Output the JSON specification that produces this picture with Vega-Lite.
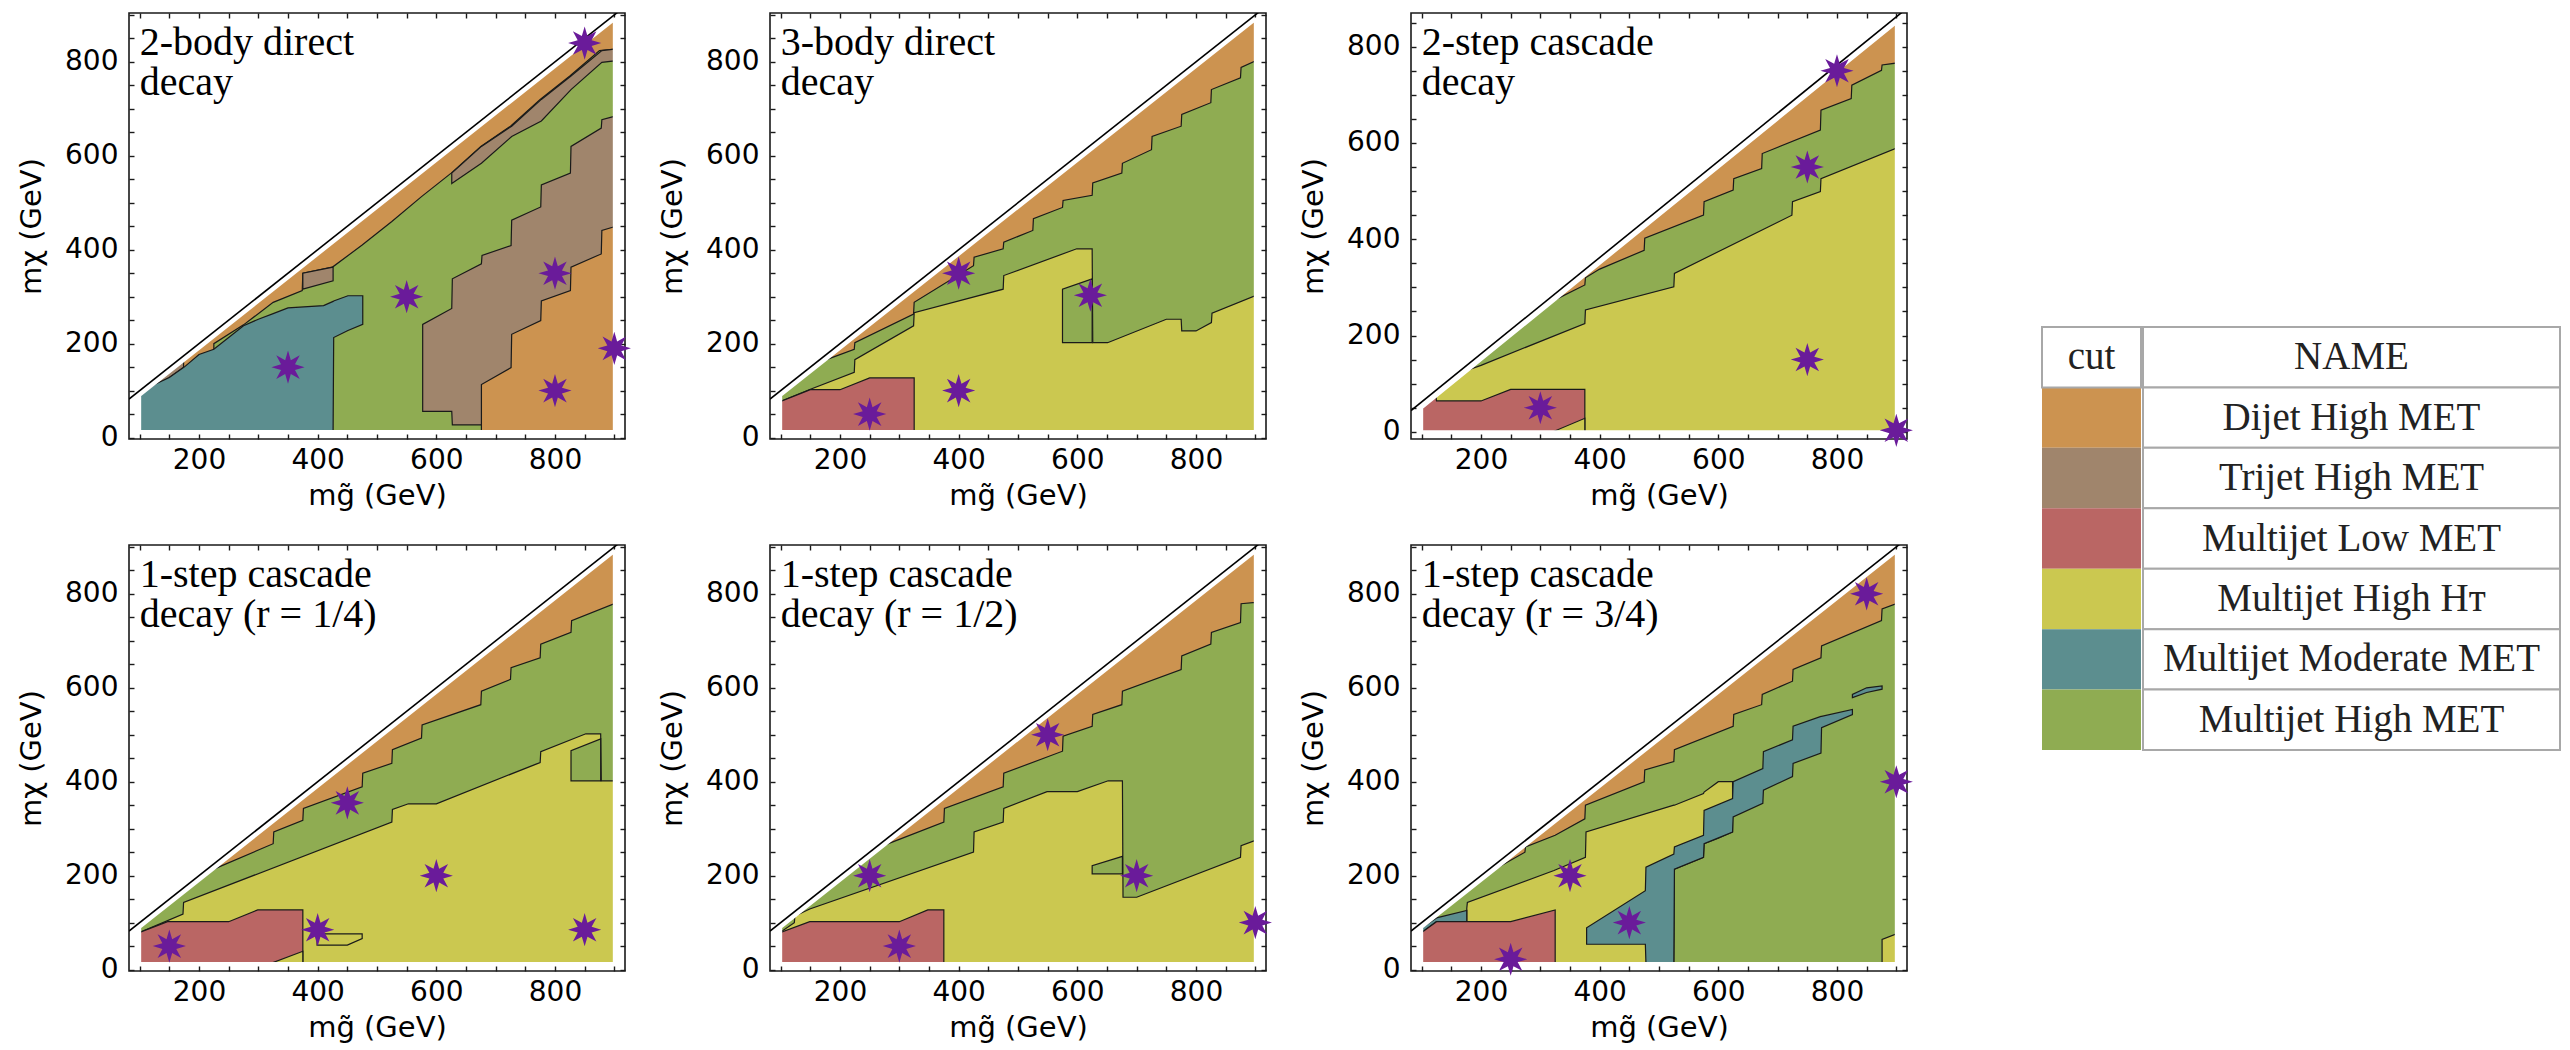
{
"$schema":"https://vega.github.io/schema/vega-lite/v6.json",
"padding":{"left":16,"top":0,"right":0,"bottom":0},
"background":"white",
"config":{
 "font":"DejaVu Sans",
 "view":{"stroke":"#1a1a1a","strokeWidth":1.6},
 "axis":{"grid":false,"domain":false,"tickSize":-5,"tickColor":"#1a1a1a","tickWidth":1.4,"labelFont":"DejaVu Sans","labelFontSize":28,"labelColor":"black","titleFont":"DejaVu Sans","titleFontSize":29,"titleFontWeight":"normal","titleColor":"black","labelFlush":false,"labelOverlap":false},
 "axisX":{"labelPadding":12,"titlePadding":7},
 "axisY":{"labelPadding":16,"titlePadding":18}
},
"datasets":{
"regions":[
{"panel":1,"part":"base","cut":"Dijet","x":100,"lo":13,"hi":90},
{"panel":1,"part":"base","cut":"Dijet","x":900,"lo":13,"hi":890},
{"panel":1,"part":"g1","cut":"HighMET","x":225,"lo":13,"hi":200},
{"panel":1,"part":"g1","cut":"HighMET","x":275,"lo":13,"hi":240},
{"panel":1,"part":"g1","cut":"HighMET","x":325,"lo":13,"hi":288},
{"panel":1,"part":"g1","cut":"HighMET","x":374,"lo":13,"hi":313},
{"panel":1,"part":"g1","cut":"HighMET","x":375,"lo":13,"hi":350},
{"panel":1,"part":"g1","cut":"HighMET","x":425,"lo":13,"hi":363},
{"panel":1,"part":"g1","cut":"HighMET","x":475,"lo":13,"hi":410},
{"panel":1,"part":"g1","cut":"HighMET","x":525,"lo":13,"hi":460},
{"panel":1,"part":"g1","cut":"HighMET","x":575,"lo":13,"hi":513},
{"panel":1,"part":"g1","cut":"HighMET","x":625,"lo":13,"hi":563},
{"panel":1,"part":"g1","cut":"HighMET","x":675,"lo":13,"hi":620},
{"panel":1,"part":"g1","cut":"HighMET","x":725,"lo":13,"hi":663},
{"panel":1,"part":"g1","cut":"HighMET","x":775,"lo":13,"hi":720},
{"panel":1,"part":"g1","cut":"HighMET","x":825,"lo":13,"hi":770},
{"panel":1,"part":"g1","cut":"HighMET","x":875,"lo":13,"hi":824},
{"panel":1,"part":"g1","cut":"HighMET","x":900,"lo":13,"hi":827},
{"panel":1,"part":"t1","cut":"Trijet","x":577,"lo":56,"hi":241},
{"panel":1,"part":"t1","cut":"Trijet","x":626,"lo":56,"hi":275},
{"panel":1,"part":"t1","cut":"Trijet","x":627,"lo":27,"hi":338},
{"panel":1,"part":"t1","cut":"Trijet","x":676,"lo":27,"hi":370},
{"panel":1,"part":"t1","cut":"Trijet","x":677,"lo":27,"hi":388},
{"panel":1,"part":"t1","cut":"Trijet","x":726,"lo":27,"hi":409},
{"panel":1,"part":"t1","cut":"Trijet","x":727,"lo":27,"hi":463},
{"panel":1,"part":"t1","cut":"Trijet","x":776,"lo":27,"hi":491},
{"panel":1,"part":"t1","cut":"Trijet","x":777,"lo":27,"hi":538},
{"panel":1,"part":"t1","cut":"Trijet","x":826,"lo":27,"hi":563},
{"panel":1,"part":"t1","cut":"Trijet","x":827,"lo":27,"hi":620},
{"panel":1,"part":"t1","cut":"Trijet","x":878,"lo":27,"hi":659},
{"panel":1,"part":"t1","cut":"Trijet","x":879,"lo":27,"hi":677},
{"panel":1,"part":"t1","cut":"Trijet","x":900,"lo":27,"hi":684},
{"panel":1,"part":"t2","cut":"Trijet","x":626,"lo":541,"hi":563},
{"panel":1,"part":"t2","cut":"Trijet","x":676,"lo":584,"hi":620},
{"panel":1,"part":"t2","cut":"Trijet","x":727,"lo":641,"hi":663},
{"panel":1,"part":"t2","cut":"Trijet","x":777,"lo":674,"hi":720},
{"panel":1,"part":"t2","cut":"Trijet","x":827,"lo":741,"hi":770},
{"panel":1,"part":"t2","cut":"Trijet","x":879,"lo":799,"hi":824},
{"panel":1,"part":"t2","cut":"Trijet","x":900,"lo":802,"hi":827},
{"panel":1,"part":"t3","cut":"Trijet","x":375,"lo":316,"hi":350},
{"panel":1,"part":"t3","cut":"Trijet","x":426,"lo":334,"hi":363},
{"panel":1,"part":"t4","cut":"Trijet","x":112,"lo":102,"hi":102},
{"panel":1,"part":"t4","cut":"Trijet","x":150,"lo":128,"hi":140},
{"panel":1,"part":"t4","cut":"Trijet","x":174,"lo":150,"hi":164},
{"panel":1,"part":"d2","cut":"Dijet","x":676,"lo":13,"hi":113},
{"panel":1,"part":"d2","cut":"Dijet","x":726,"lo":13,"hi":149},
{"panel":1,"part":"d2","cut":"Dijet","x":727,"lo":13,"hi":220},
{"panel":1,"part":"d2","cut":"Dijet","x":776,"lo":13,"hi":249},
{"panel":1,"part":"d2","cut":"Dijet","x":777,"lo":13,"hi":291},
{"panel":1,"part":"d2","cut":"Dijet","x":826,"lo":13,"hi":313},
{"panel":1,"part":"d2","cut":"Dijet","x":827,"lo":13,"hi":363},
{"panel":1,"part":"d2","cut":"Dijet","x":878,"lo":13,"hi":391},
{"panel":1,"part":"d2","cut":"Dijet","x":879,"lo":13,"hi":441},
{"panel":1,"part":"d2","cut":"Dijet","x":900,"lo":13,"hi":449},
{"panel":1,"part":"m1","cut":"ModMET","x":100,"lo":13,"hi":90},
{"panel":1,"part":"m1","cut":"ModMET","x":125,"lo":13,"hi":113},
{"panel":1,"part":"m1","cut":"ModMET","x":150,"lo":13,"hi":128},
{"panel":1,"part":"m1","cut":"ModMET","x":175,"lo":13,"hi":150},
{"panel":1,"part":"m1","cut":"ModMET","x":200,"lo":13,"hi":177},
{"panel":1,"part":"m1","cut":"ModMET","x":225,"lo":13,"hi":188},
{"panel":1,"part":"m1","cut":"ModMET","x":250,"lo":13,"hi":213},
{"panel":1,"part":"m1","cut":"ModMET","x":275,"lo":13,"hi":238},
{"panel":1,"part":"m1","cut":"ModMET","x":300,"lo":13,"hi":252},
{"panel":1,"part":"m1","cut":"ModMET","x":325,"lo":13,"hi":264},
{"panel":1,"part":"m1","cut":"ModMET","x":350,"lo":13,"hi":276},
{"panel":1,"part":"m1","cut":"ModMET","x":410,"lo":13,"hi":281},
{"panel":1,"part":"m1","cut":"ModMET","x":426,"lo":13,"hi":290},
{"panel":1,"part":"m1","cut":"ModMET","x":427,"lo":213,"hi":291},
{"panel":1,"part":"m1","cut":"ModMET","x":451,"lo":228,"hi":302},
{"panel":1,"part":"m1","cut":"ModMET","x":476,"lo":241,"hi":302},

{"panel":2,"part":"base","cut":"Dijet","x":100,"lo":13,"hi":90},
{"panel":2,"part":"base","cut":"Dijet","x":900,"lo":13,"hi":890},
{"panel":2,"part":"g1","cut":"HighMET","x":100,"lo":13,"hi":90},
{"panel":2,"part":"g1","cut":"HighMET","x":175,"lo":13,"hi":165},
{"panel":2,"part":"g1","cut":"HighMET","x":224,"lo":13,"hi":188},
{"panel":2,"part":"g1","cut":"HighMET","x":225,"lo":13,"hi":202},
{"panel":2,"part":"g1","cut":"HighMET","x":324,"lo":13,"hi":263},
{"panel":2,"part":"g1","cut":"HighMET","x":325,"lo":13,"hi":288},
{"panel":2,"part":"g1","cut":"HighMET","x":425,"lo":13,"hi":366},
{"panel":2,"part":"g1","cut":"HighMET","x":426,"lo":13,"hi":384},
{"panel":2,"part":"g1","cut":"HighMET","x":475,"lo":13,"hi":402},
{"panel":2,"part":"g1","cut":"HighMET","x":476,"lo":13,"hi":416},
{"panel":2,"part":"g1","cut":"HighMET","x":525,"lo":13,"hi":441},
{"panel":2,"part":"g1","cut":"HighMET","x":526,"lo":13,"hi":466},
{"panel":2,"part":"g1","cut":"HighMET","x":575,"lo":13,"hi":490},
{"panel":2,"part":"g1","cut":"HighMET","x":576,"lo":13,"hi":505},
{"panel":2,"part":"g1","cut":"HighMET","x":625,"lo":13,"hi":516},
{"panel":2,"part":"g1","cut":"HighMET","x":626,"lo":13,"hi":542},
{"panel":2,"part":"g1","cut":"HighMET","x":675,"lo":13,"hi":563},
{"panel":2,"part":"g1","cut":"HighMET","x":676,"lo":13,"hi":584},
{"panel":2,"part":"g1","cut":"HighMET","x":725,"lo":13,"hi":613},
{"panel":2,"part":"g1","cut":"HighMET","x":726,"lo":13,"hi":641},
{"panel":2,"part":"g1","cut":"HighMET","x":775,"lo":13,"hi":663},
{"panel":2,"part":"g1","cut":"HighMET","x":776,"lo":13,"hi":688},
{"panel":2,"part":"g1","cut":"HighMET","x":825,"lo":13,"hi":713},
{"panel":2,"part":"g1","cut":"HighMET","x":826,"lo":13,"hi":741},
{"panel":2,"part":"g1","cut":"HighMET","x":875,"lo":13,"hi":766},
{"panel":2,"part":"g1","cut":"HighMET","x":876,"lo":13,"hi":788},
{"panel":2,"part":"g1","cut":"HighMET","x":900,"lo":13,"hi":802},
{"panel":2,"part":"y1","cut":"HighHT","x":100,"lo":13,"hi":77},
{"panel":2,"part":"y1","cut":"HighHT","x":148,"lo":13,"hi":102},
{"panel":2,"part":"y1","cut":"HighHT","x":224,"lo":13,"hi":139},
{"panel":2,"part":"y1","cut":"HighHT","x":225,"lo":13,"hi":166},
{"panel":2,"part":"y1","cut":"HighHT","x":324,"lo":13,"hi":238},
{"panel":2,"part":"y1","cut":"HighHT","x":325,"lo":13,"hi":266},
{"panel":2,"part":"y1","cut":"HighHT","x":475,"lo":13,"hi":316},
{"panel":2,"part":"y1","cut":"HighHT","x":476,"lo":13,"hi":345},
{"panel":2,"part":"y1","cut":"HighHT","x":599,"lo":13,"hi":402},
{"panel":2,"part":"y1","cut":"HighHT","x":625,"lo":13,"hi":402},
{"panel":2,"part":"y1","cut":"HighHT","x":626,"lo":13,"hi":202},
{"panel":2,"part":"y1","cut":"HighHT","x":651,"lo":13,"hi":202},
{"panel":2,"part":"y1","cut":"HighHT","x":750,"lo":13,"hi":252},
{"panel":2,"part":"y1","cut":"HighHT","x":775,"lo":13,"hi":252},
{"panel":2,"part":"y1","cut":"HighHT","x":776,"lo":13,"hi":227},
{"panel":2,"part":"y1","cut":"HighHT","x":800,"lo":13,"hi":227},
{"panel":2,"part":"y1","cut":"HighHT","x":826,"lo":13,"hi":245},
{"panel":2,"part":"y1","cut":"HighHT","x":827,"lo":13,"hi":265},
{"panel":2,"part":"y1","cut":"HighHT","x":900,"lo":13,"hi":302},
{"panel":2,"part":"g2","cut":"HighMET","x":575,"lo":202,"hi":316},
{"panel":2,"part":"g2","cut":"HighMET","x":625,"lo":202,"hi":338},
{"panel":2,"part":"r1","cut":"LowMET","x":100,"lo":13,"hi":77},
{"panel":2,"part":"r1","cut":"LowMET","x":150,"lo":13,"hi":102},
{"panel":2,"part":"r1","cut":"LowMET","x":200,"lo":13,"hi":102},
{"panel":2,"part":"r1","cut":"LowMET","x":250,"lo":13,"hi":127},
{"panel":2,"part":"r1","cut":"LowMET","x":325,"lo":13,"hi":127},

{"panel":3,"part":"base","cut":"Dijet","x":100,"lo":0,"hi":50},
{"panel":3,"part":"base","cut":"Dijet","x":900,"lo":0,"hi":850},
{"panel":3,"part":"g1","cut":"HighMET","x":100,"lo":0,"hi":50},
{"panel":3,"part":"g1","cut":"HighMET","x":323,"lo":0,"hi":273},
{"panel":3,"part":"g1","cut":"HighMET","x":375,"lo":0,"hi":305},
{"panel":3,"part":"g1","cut":"HighMET","x":376,"lo":0,"hi":320},
{"panel":3,"part":"g1","cut":"HighMET","x":400,"lo":0,"hi":338},
{"panel":3,"part":"g1","cut":"HighMET","x":475,"lo":0,"hi":377},
{"panel":3,"part":"g1","cut":"HighMET","x":476,"lo":0,"hi":402},
{"panel":3,"part":"g1","cut":"HighMET","x":575,"lo":0,"hi":450},
{"panel":3,"part":"g1","cut":"HighMET","x":576,"lo":0,"hi":478},
{"panel":3,"part":"g1","cut":"HighMET","x":625,"lo":0,"hi":502},
{"panel":3,"part":"g1","cut":"HighMET","x":626,"lo":0,"hi":526},
{"panel":3,"part":"g1","cut":"HighMET","x":673,"lo":0,"hi":547},
{"panel":3,"part":"g1","cut":"HighMET","x":674,"lo":0,"hi":578},
{"panel":3,"part":"g1","cut":"HighMET","x":772,"lo":0,"hi":627},
{"panel":3,"part":"g1","cut":"HighMET","x":773,"lo":0,"hi":668},
{"panel":3,"part":"g1","cut":"HighMET","x":824,"lo":0,"hi":692},
{"panel":3,"part":"g1","cut":"HighMET","x":825,"lo":0,"hi":720},
{"panel":3,"part":"g1","cut":"HighMET","x":875,"lo":0,"hi":751},
{"panel":3,"part":"g1","cut":"HighMET","x":876,"lo":0,"hi":762},
{"panel":3,"part":"g1","cut":"HighMET","x":900,"lo":0,"hi":766},
{"panel":3,"part":"y1","cut":"HighHT","x":100,"lo":0,"hi":50},
{"panel":3,"part":"y1","cut":"HighHT","x":176,"lo":0,"hi":126},
{"panel":3,"part":"y1","cut":"HighHT","x":177,"lo":0,"hi":128},
{"panel":3,"part":"y1","cut":"HighHT","x":200,"lo":0,"hi":138},
{"panel":3,"part":"y1","cut":"HighHT","x":375,"lo":0,"hi":225},
{"panel":3,"part":"y1","cut":"HighHT","x":376,"lo":0,"hi":253},
{"panel":3,"part":"y1","cut":"HighHT","x":525,"lo":0,"hi":301},
{"panel":3,"part":"y1","cut":"HighHT","x":526,"lo":0,"hi":329},
{"panel":3,"part":"y1","cut":"HighHT","x":724,"lo":0,"hi":450},
{"panel":3,"part":"y1","cut":"HighHT","x":725,"lo":0,"hi":478},
{"panel":3,"part":"y1","cut":"HighHT","x":772,"lo":0,"hi":499},
{"panel":3,"part":"y1","cut":"HighHT","x":773,"lo":0,"hi":526},
{"panel":3,"part":"y1","cut":"HighHT","x":900,"lo":0,"hi":589},
{"panel":3,"part":"r1","cut":"LowMET","x":100,"lo":0,"hi":50},
{"panel":3,"part":"r1","cut":"LowMET","x":124,"lo":0,"hi":74},
{"panel":3,"part":"r1","cut":"LowMET","x":125,"lo":0,"hi":64},
{"panel":3,"part":"r1","cut":"LowMET","x":200,"lo":0,"hi":64},
{"panel":3,"part":"r1","cut":"LowMET","x":250,"lo":0,"hi":88},
{"panel":3,"part":"r1","cut":"LowMET","x":375,"lo":0,"hi":88},
{"panel":3,"part":"y2","cut":"HighHT","x":323,"lo":0,"hi":1},
{"panel":3,"part":"y2","cut":"HighHT","x":375,"lo":0,"hi":28},

{"panel":4,"part":"base","cut":"Dijet","x":100,"lo":13,"hi":90},
{"panel":4,"part":"base","cut":"Dijet","x":900,"lo":13,"hi":890},
{"panel":4,"part":"g1","cut":"HighMET","x":100,"lo":13,"hi":90},
{"panel":4,"part":"g1","cut":"HighMET","x":225,"lo":13,"hi":214},
{"panel":4,"part":"g1","cut":"HighMET","x":325,"lo":13,"hi":268},
{"panel":4,"part":"g1","cut":"HighMET","x":326,"lo":13,"hi":293},
{"panel":4,"part":"g1","cut":"HighMET","x":375,"lo":13,"hi":318},
{"panel":4,"part":"g1","cut":"HighMET","x":376,"lo":13,"hi":343},
{"panel":4,"part":"g1","cut":"HighMET","x":475,"lo":13,"hi":389},
{"panel":4,"part":"g1","cut":"HighMET","x":476,"lo":13,"hi":418},
{"panel":4,"part":"g1","cut":"HighMET","x":525,"lo":13,"hi":439},
{"panel":4,"part":"g1","cut":"HighMET","x":526,"lo":13,"hi":468},
{"panel":4,"part":"g1","cut":"HighMET","x":575,"lo":13,"hi":493},
{"panel":4,"part":"g1","cut":"HighMET","x":576,"lo":13,"hi":521},
{"panel":4,"part":"g1","cut":"HighMET","x":675,"lo":13,"hi":564},
{"panel":4,"part":"g1","cut":"HighMET","x":676,"lo":13,"hi":593},
{"panel":4,"part":"g1","cut":"HighMET","x":725,"lo":13,"hi":618},
{"panel":4,"part":"g1","cut":"HighMET","x":726,"lo":13,"hi":643},
{"panel":4,"part":"g1","cut":"HighMET","x":775,"lo":13,"hi":664},
{"panel":4,"part":"g1","cut":"HighMET","x":776,"lo":13,"hi":693},
{"panel":4,"part":"g1","cut":"HighMET","x":827,"lo":13,"hi":718},
{"panel":4,"part":"g1","cut":"HighMET","x":828,"lo":13,"hi":743},
{"panel":4,"part":"g1","cut":"HighMET","x":900,"lo":13,"hi":779},
{"panel":4,"part":"y1","cut":"HighHT","x":100,"lo":13,"hi":79},
{"panel":4,"part":"y1","cut":"HighHT","x":173,"lo":13,"hi":118},
{"panel":4,"part":"y1","cut":"HighHT","x":174,"lo":13,"hi":143},
{"panel":4,"part":"y1","cut":"HighHT","x":525,"lo":13,"hi":314},
{"panel":4,"part":"y1","cut":"HighHT","x":526,"lo":13,"hi":341},
{"panel":4,"part":"y1","cut":"HighHT","x":553,"lo":13,"hi":353},
{"panel":4,"part":"y1","cut":"HighHT","x":600,"lo":13,"hi":353},
{"panel":4,"part":"y1","cut":"HighHT","x":775,"lo":13,"hi":441},
{"panel":4,"part":"y1","cut":"HighHT","x":776,"lo":13,"hi":464},
{"panel":4,"part":"y1","cut":"HighHT","x":852,"lo":13,"hi":502},
{"panel":4,"part":"y1","cut":"HighHT","x":877,"lo":13,"hi":502},
{"panel":4,"part":"y1","cut":"HighHT","x":878,"lo":13,"hi":402},
{"panel":4,"part":"y1","cut":"HighHT","x":900,"lo":13,"hi":402},
{"panel":4,"part":"g2","cut":"HighMET","x":827,"lo":402,"hi":466},
{"panel":4,"part":"g2","cut":"HighMET","x":877,"lo":402,"hi":491},
{"panel":4,"part":"r1","cut":"LowMET","x":100,"lo":13,"hi":79},
{"panel":4,"part":"r1","cut":"LowMET","x":147,"lo":13,"hi":102},
{"panel":4,"part":"r1","cut":"LowMET","x":250,"lo":13,"hi":102},
{"panel":4,"part":"r1","cut":"LowMET","x":299,"lo":13,"hi":127},
{"panel":4,"part":"r1","cut":"LowMET","x":375,"lo":13,"hi":127},
{"panel":4,"part":"y2","cut":"HighHT","x":323,"lo":13,"hi":14},
{"panel":4,"part":"y2","cut":"HighHT","x":375,"lo":13,"hi":39},
{"panel":4,"part":"y3","cut":"HighHT","x":399,"lo":52,"hi":76},
{"panel":4,"part":"y3","cut":"HighHT","x":450,"lo":52,"hi":76},
{"panel":4,"part":"y3","cut":"HighHT","x":475,"lo":66,"hi":76},

{"panel":5,"part":"base","cut":"Dijet","x":100,"lo":13,"hi":90},
{"panel":5,"part":"base","cut":"Dijet","x":900,"lo":13,"hi":890},
{"panel":5,"part":"g1","cut":"HighMET","x":100,"lo":13,"hi":90},
{"panel":5,"part":"g1","cut":"HighMET","x":275,"lo":13,"hi":265},
{"panel":5,"part":"g1","cut":"HighMET","x":375,"lo":13,"hi":314},
{"panel":5,"part":"g1","cut":"HighMET","x":376,"lo":13,"hi":343},
{"panel":5,"part":"g1","cut":"HighMET","x":475,"lo":13,"hi":389},
{"panel":5,"part":"g1","cut":"HighMET","x":476,"lo":13,"hi":418},
{"panel":5,"part":"g1","cut":"HighMET","x":575,"lo":13,"hi":465},
{"panel":5,"part":"g1","cut":"HighMET","x":576,"lo":13,"hi":497},
{"panel":5,"part":"g1","cut":"HighMET","x":625,"lo":13,"hi":518},
{"panel":5,"part":"g1","cut":"HighMET","x":626,"lo":13,"hi":543},
{"panel":5,"part":"g1","cut":"HighMET","x":675,"lo":13,"hi":564},
{"panel":5,"part":"g1","cut":"HighMET","x":676,"lo":13,"hi":593},
{"panel":5,"part":"g1","cut":"HighMET","x":775,"lo":13,"hi":639},
{"panel":5,"part":"g1","cut":"HighMET","x":776,"lo":13,"hi":668},
{"panel":5,"part":"g1","cut":"HighMET","x":825,"lo":13,"hi":693},
{"panel":5,"part":"g1","cut":"HighMET","x":826,"lo":13,"hi":718},
{"panel":5,"part":"g1","cut":"HighMET","x":875,"lo":13,"hi":739},
{"panel":5,"part":"g1","cut":"HighMET","x":876,"lo":13,"hi":779},
{"panel":5,"part":"g1","cut":"HighMET","x":900,"lo":13,"hi":782},
{"panel":5,"part":"y1","cut":"HighHT","x":100,"lo":13,"hi":80},
{"panel":5,"part":"y1","cut":"HighHT","x":123,"lo":13,"hi":100},
{"panel":5,"part":"y1","cut":"HighHT","x":124,"lo":13,"hi":114},
{"panel":5,"part":"y1","cut":"HighHT","x":149,"lo":13,"hi":129},
{"panel":5,"part":"y1","cut":"HighHT","x":425,"lo":13,"hi":250},
{"panel":5,"part":"y1","cut":"HighHT","x":426,"lo":13,"hi":293},
{"panel":5,"part":"y1","cut":"HighHT","x":475,"lo":13,"hi":314},
{"panel":5,"part":"y1","cut":"HighHT","x":476,"lo":13,"hi":343},
{"panel":5,"part":"y1","cut":"HighHT","x":549,"lo":13,"hi":379},
{"panel":5,"part":"y1","cut":"HighHT","x":600,"lo":13,"hi":379},
{"panel":5,"part":"y1","cut":"HighHT","x":652,"lo":13,"hi":402},
{"panel":5,"part":"y1","cut":"HighHT","x":676,"lo":13,"hi":402},
{"panel":5,"part":"y1","cut":"HighHT","x":677,"lo":13,"hi":154},
{"panel":5,"part":"y1","cut":"HighHT","x":700,"lo":13,"hi":154},
{"panel":5,"part":"y1","cut":"HighHT","x":875,"lo":13,"hi":239},
{"panel":5,"part":"y1","cut":"HighHT","x":876,"lo":13,"hi":264},
{"panel":5,"part":"y1","cut":"HighHT","x":900,"lo":13,"hi":275},
{"panel":5,"part":"g2","cut":"HighMET","x":625,"lo":204,"hi":221},
{"panel":5,"part":"g2","cut":"HighMET","x":676,"lo":204,"hi":241},
{"panel":5,"part":"r1","cut":"LowMET","x":100,"lo":13,"hi":79},
{"panel":5,"part":"r1","cut":"LowMET","x":149,"lo":13,"hi":102},
{"panel":5,"part":"r1","cut":"LowMET","x":300,"lo":13,"hi":102},
{"panel":5,"part":"r1","cut":"LowMET","x":348,"lo":13,"hi":127},
{"panel":5,"part":"r1","cut":"LowMET","x":375,"lo":13,"hi":127},

{"panel":6,"part":"base","cut":"Dijet","x":100,"lo":13,"hi":90},
{"panel":6,"part":"base","cut":"Dijet","x":900,"lo":13,"hi":890},
{"panel":6,"part":"g1","cut":"HighMET","x":100,"lo":13,"hi":90},
{"panel":6,"part":"g1","cut":"HighMET","x":224,"lo":13,"hi":214},
{"panel":6,"part":"g1","cut":"HighMET","x":274,"lo":13,"hi":250},
{"panel":6,"part":"g1","cut":"HighMET","x":275,"lo":13,"hi":261},
{"panel":6,"part":"g1","cut":"HighMET","x":325,"lo":13,"hi":286},
{"panel":6,"part":"g1","cut":"HighMET","x":375,"lo":13,"hi":321},
{"panel":6,"part":"g1","cut":"HighMET","x":376,"lo":13,"hi":350},
{"panel":6,"part":"g1","cut":"HighMET","x":475,"lo":13,"hi":400},
{"panel":6,"part":"g1","cut":"HighMET","x":476,"lo":13,"hi":425},
{"panel":6,"part":"g1","cut":"HighMET","x":525,"lo":13,"hi":443},
{"panel":6,"part":"g1","cut":"HighMET","x":526,"lo":13,"hi":468},
{"panel":6,"part":"g1","cut":"HighMET","x":625,"lo":13,"hi":518},
{"panel":6,"part":"g1","cut":"HighMET","x":626,"lo":13,"hi":543},
{"panel":6,"part":"g1","cut":"HighMET","x":673,"lo":13,"hi":564},
{"panel":6,"part":"g1","cut":"HighMET","x":674,"lo":13,"hi":586},
{"panel":6,"part":"g1","cut":"HighMET","x":725,"lo":13,"hi":614},
{"panel":6,"part":"g1","cut":"HighMET","x":726,"lo":13,"hi":639},
{"panel":6,"part":"g1","cut":"HighMET","x":773,"lo":13,"hi":664},
{"panel":6,"part":"g1","cut":"HighMET","x":774,"lo":13,"hi":689},
{"panel":6,"part":"g1","cut":"HighMET","x":875,"lo":13,"hi":743},
{"panel":6,"part":"g1","cut":"HighMET","x":876,"lo":13,"hi":768},
{"panel":6,"part":"g1","cut":"HighMET","x":900,"lo":13,"hi":779},
{"panel":6,"part":"y1","cut":"HighHT","x":176,"lo":13,"hi":130},
{"panel":6,"part":"y1","cut":"HighHT","x":177,"lo":13,"hi":143},
{"panel":6,"part":"y1","cut":"HighHT","x":323,"lo":13,"hi":211},
{"panel":6,"part":"y1","cut":"HighHT","x":376,"lo":13,"hi":239},
{"panel":6,"part":"y1","cut":"HighHT","x":377,"lo":13,"hi":293},
{"panel":6,"part":"y1","cut":"HighHT","x":525,"lo":13,"hi":350},
{"panel":6,"part":"y1","cut":"HighHT","x":526,"lo":214,"hi":350},
{"panel":6,"part":"y1","cut":"HighHT","x":575,"lo":239,"hi":375},
{"panel":6,"part":"y1","cut":"HighHT","x":576,"lo":268,"hi":378},
{"panel":6,"part":"y1","cut":"HighHT","x":600,"lo":280,"hi":400},
{"panel":6,"part":"y1","cut":"HighHT","x":624,"lo":293,"hi":400},
{"panel":6,"part":"y2","cut":"HighHT","x":876,"lo":13,"hi":64},
{"panel":6,"part":"y2","cut":"HighHT","x":900,"lo":13,"hi":76},
{"panel":6,"part":"m1","cut":"ModMET","x":378,"lo":54,"hi":89},
{"panel":6,"part":"m1","cut":"ModMET","x":477,"lo":54,"hi":168},
{"panel":6,"part":"m1","cut":"ModMET","x":478,"lo":13,"hi":218},
{"panel":6,"part":"m1","cut":"ModMET","x":525,"lo":13,"hi":246},
{"panel":6,"part":"m1","cut":"ModMET","x":526,"lo":214,"hi":261},
{"panel":6,"part":"m1","cut":"ModMET","x":575,"lo":239,"hi":286},
{"panel":6,"part":"m1","cut":"ModMET","x":576,"lo":268,"hi":339},
{"panel":6,"part":"m1","cut":"ModMET","x":624,"lo":293,"hi":364},
{"panel":6,"part":"m1","cut":"ModMET","x":625,"lo":325,"hi":400},
{"panel":6,"part":"m1","cut":"ModMET","x":675,"lo":354,"hi":428},
{"panel":6,"part":"m1","cut":"ModMET","x":676,"lo":382,"hi":464},
{"panel":6,"part":"m1","cut":"ModMET","x":725,"lo":411,"hi":489},
{"panel":6,"part":"m1","cut":"ModMET","x":726,"lo":439,"hi":518},
{"panel":6,"part":"m1","cut":"ModMET","x":773,"lo":461,"hi":539},
{"panel":6,"part":"m1","cut":"ModMET","x":774,"lo":515,"hi":539},
{"panel":6,"part":"m1","cut":"ModMET","x":826,"lo":543,"hi":554},
{"panel":6,"part":"m2","cut":"ModMET","x":826,"lo":579,"hi":586},
{"panel":6,"part":"m2","cut":"ModMET","x":850,"lo":590,"hi":600},
{"panel":6,"part":"m2","cut":"ModMET","x":876,"lo":597,"hi":604},
{"panel":6,"part":"m3","cut":"ModMET","x":100,"lo":79,"hi":89},
{"panel":6,"part":"m3","cut":"ModMET","x":125,"lo":102,"hi":110},
{"panel":6,"part":"m3","cut":"ModMET","x":176,"lo":102,"hi":126},
{"panel":6,"part":"r1","cut":"LowMET","x":100,"lo":13,"hi":79},
{"panel":6,"part":"r1","cut":"LowMET","x":125,"lo":13,"hi":102},
{"panel":6,"part":"r1","cut":"LowMET","x":250,"lo":13,"hi":102},
{"panel":6,"part":"r1","cut":"LowMET","x":325,"lo":13,"hi":127}
],
"mask":[
{"panel":1,"x":100,"lo":13,"hi":90},{"panel":1,"x":900,"lo":13,"hi":890},
{"panel":2,"x":100,"lo":13,"hi":90},{"panel":2,"x":900,"lo":13,"hi":890},
{"panel":3,"x":100,"lo":0,"hi":50},{"panel":3,"x":900,"lo":0,"hi":850},
{"panel":4,"x":100,"lo":13,"hi":90},{"panel":4,"x":900,"lo":13,"hi":890},
{"panel":5,"x":100,"lo":13,"hi":90},{"panel":5,"x":900,"lo":13,"hi":890},
{"panel":6,"x":100,"lo":13,"hi":90},{"panel":6,"x":900,"lo":13,"hi":890}
],
"diag":[
{"panel":1,"x":82,"y":82},{"panel":1,"x":918,"y":918},
{"panel":2,"x":82,"y":82},{"panel":2,"x":918,"y":918},
{"panel":3,"x":82,"y":44},{"panel":3,"x":918,"y":880},
{"panel":4,"x":82,"y":82},{"panel":4,"x":918,"y":918},
{"panel":5,"x":82,"y":82},{"panel":5,"x":918,"y":918},
{"panel":6,"x":82,"y":82},{"panel":6,"x":918,"y":918}
],
"stars":[
{"panel":1,"x":350,"y":150},{"panel":1,"x":550,"y":300},{"panel":1,"x":800,"y":350},{"panel":1,"x":800,"y":100},{"panel":1,"x":850,"y":840},{"panel":1,"x":900,"y":190},
{"panel":2,"x":250,"y":50},{"panel":2,"x":400,"y":100},{"panel":2,"x":400,"y":350},{"panel":2,"x":622,"y":303},
{"panel":3,"x":300,"y":50},{"panel":3,"x":750,"y":550},{"panel":3,"x":750,"y":150},{"panel":3,"x":800,"y":750},{"panel":3,"x":900,"y":3},
{"panel":4,"x":150,"y":50},{"panel":4,"x":400,"y":85},{"panel":4,"x":450,"y":355},{"panel":4,"x":600,"y":200},{"panel":4,"x":850,"y":85},
{"panel":5,"x":250,"y":200},{"panel":5,"x":300,"y":50},{"panel":5,"x":550,"y":500},{"panel":5,"x":700,"y":200},{"panel":5,"x":900,"y":100},
{"panel":6,"x":250,"y":22},{"panel":6,"x":350,"y":200},{"panel":6,"x":450,"y":100},{"panel":6,"x":850,"y":800},{"panel":6,"x":900,"y":400}
],
"titles":[
{"panel":1,"title":"2-body direct\ndecay"},
{"panel":2,"title":"3-body direct\ndecay"},
{"panel":3,"title":"2-step cascade\ndecay"},
{"panel":4,"title":"1-step cascade\ndecay (r = 1/4)"},
{"panel":5,"title":"1-step cascade\ndecay (r = 1/2)"},
{"panel":6,"title":"1-step cascade\ndecay (r = 3/4)"}
],
"table":[
{"key":"header","label":"NAME"},
{"key":"Dijet","label":"Dijet High MET"},
{"key":"Trijet","label":"Trijet High MET"},
{"key":"LowMET","label":"Multijet Low MET"},
{"key":"HighHT","label":"Multijet High Hᴛ"},
{"key":"ModMET","label":"Multijet Moderate MET"},
{"key":"HighMET","label":"Multijet High MET"}
]
},
"hconcat":[
{"concat":[
  {"width":496,"height":426,"resolve":{"axis":{"x":"independent","y":"independent"}},"layer":[
   {"data":{"name":"regions"},"transform":[{"filter":"datum.panel == 1"}],"mark":{"type":"area","interpolate":"linear","strokeWidth":1.2},"encoding":{"x":{"field":"x","type":"quantitative","scale":{"domain":[82,918],"nice":false,"zero":false},"axis":{"title":"mg̃ (GeV)","values":[100,150,200,250,300,350,400,450,500,550,600,650,700,750,800,850,900],"labelExpr":"datum.value % 200 == 0 ? datum.label : ''"}},"y":{"field":"lo","type":"quantitative","stack":null,"scale":{"domain":[-3,904],"nice":false,"zero":false},"axis":{"title":"mχ (GeV)","values":[0,50,100,150,200,250,300,350,400,450,500,550,600,650,700,750,800,850,900],"labelExpr":"datum.value % 200 == 0 ? datum.label : ''"}},"y2":{"field":"hi"},"color":{"field":"cut","type":"nominal","scale":{"domain":["Dijet","Trijet","LowMET","HighHT","ModMET","HighMET"],"range":["#CC9350","#A0856C","#BA6664","#CBC850","#5C8E8F","#8FAC52"]},"legend":null},"detail":{"field":"part"},"stroke":{"condition":{"test":"datum.part == 'base'","value":"transparent"},"value":"#1a1a1a"}}},
   {"data":{"name":"mask"},"transform":[{"filter":"datum.panel == 1"}],"mark":{"type":"area","fill":"transparent","stroke":"white","strokeWidth":3},"encoding":{"x":{"field":"x","type":"quantitative","axis":null},"y":{"field":"lo","type":"quantitative","stack":null,"axis":null},"y2":{"field":"hi"}}},
   {"data":{"name":"diag"},"transform":[{"filter":"datum.panel == 1"}],"mark":{"type":"line","color":"black","strokeWidth":1.6,"clip":true},"encoding":{"x":{"field":"x","type":"quantitative","axis":{"orient":"top","labels":false,"title":null,"values":[100,150,200,250,300,350,400,450,500,550,600,650,700,750,800,850,900]}},"y":{"field":"y","type":"quantitative","axis":{"orient":"right","labels":false,"title":null,"values":[0,50,100,150,200,250,300,350,400,450,500,550,600,650,700,750,800,850,900]}}}},
   {"data":{"name":"stars"},"transform":[{"filter":"datum.panel == 1"}],"mark":{"type":"point","shape":"M0,-1L0.17,-0.42L0.71,-0.71L0.42,-0.17L1,0L0.42,0.17L0.71,0.71L0.17,0.42L0,1L-0.17,0.42L-0.71,0.71L-0.42,0.17L-1,0L-0.42,-0.17L-0.71,-0.71L-0.17,-0.42Z","filled":true,"size":1100,"color":"#6a1b9a","opacity":1},"encoding":{"x":{"field":"x","type":"quantitative","axis":null},"y":{"field":"y","type":"quantitative","axis":null}}},
   {"data":{"name":"titles"},"transform":[{"filter":"datum.panel == 1"}],"mark":{"type":"text","align":"left","baseline":"alphabetic","font":"Liberation Serif","fontSize":40,"lineHeight":40,"lineBreak":"\n","color":"black"},"encoding":{"x":{"datum":100,"type":"quantitative","axis":null},"y":{"datum":815,"type":"quantitative","axis":null},"text":{"field":"title"}}}
  ]},
   {"width":496,"height":426,"resolve":{"axis":{"x":"independent","y":"independent"}},"layer":[
    {"data":{"name":"regions"},"transform":[{"filter":"datum.panel == 2"}],"mark":{"type":"area","interpolate":"linear","strokeWidth":1.2},"encoding":{"x":{"field":"x","type":"quantitative","scale":{"domain":[82,918],"nice":false,"zero":false},"axis":{"title":"mg̃ (GeV)","values":[100,150,200,250,300,350,400,450,500,550,600,650,700,750,800,850,900],"labelExpr":"datum.value % 200 == 0 ? datum.label : ''"}},"y":{"field":"lo","type":"quantitative","stack":null,"scale":{"domain":[-3,904],"nice":false,"zero":false},"axis":{"title":"mχ (GeV)","values":[0,50,100,150,200,250,300,350,400,450,500,550,600,650,700,750,800,850,900],"labelExpr":"datum.value % 200 == 0 ? datum.label : ''"}},"y2":{"field":"hi"},"color":{"field":"cut","type":"nominal","scale":{"domain":["Dijet","Trijet","LowMET","HighHT","ModMET","HighMET"],"range":["#CC9350","#A0856C","#BA6664","#CBC850","#5C8E8F","#8FAC52"]},"legend":null},"detail":{"field":"part"},"stroke":{"condition":{"test":"datum.part == 'base'","value":"transparent"},"value":"#1a1a1a"}}},
    {"data":{"name":"mask"},"transform":[{"filter":"datum.panel == 2"}],"mark":{"type":"area","fill":"transparent","stroke":"white","strokeWidth":3},"encoding":{"x":{"field":"x","type":"quantitative","axis":null},"y":{"field":"lo","type":"quantitative","stack":null,"axis":null},"y2":{"field":"hi"}}},
    {"data":{"name":"diag"},"transform":[{"filter":"datum.panel == 2"}],"mark":{"type":"line","color":"black","strokeWidth":1.6,"clip":true},"encoding":{"x":{"field":"x","type":"quantitative","axis":{"orient":"top","labels":false,"title":null,"values":[100,150,200,250,300,350,400,450,500,550,600,650,700,750,800,850,900]}},"y":{"field":"y","type":"quantitative","axis":{"orient":"right","labels":false,"title":null,"values":[0,50,100,150,200,250,300,350,400,450,500,550,600,650,700,750,800,850,900]}}}},
    {"data":{"name":"stars"},"transform":[{"filter":"datum.panel == 2"}],"mark":{"type":"point","shape":"M0,-1L0.17,-0.42L0.71,-0.71L0.42,-0.17L1,0L0.42,0.17L0.71,0.71L0.17,0.42L0,1L-0.17,0.42L-0.71,0.71L-0.42,0.17L-1,0L-0.42,-0.17L-0.71,-0.71L-0.17,-0.42Z","filled":true,"size":1100,"color":"#6a1b9a","opacity":1},"encoding":{"x":{"field":"x","type":"quantitative","axis":null},"y":{"field":"y","type":"quantitative","axis":null}}},
    {"data":{"name":"titles"},"transform":[{"filter":"datum.panel == 2"}],"mark":{"type":"text","align":"left","baseline":"alphabetic","font":"Liberation Serif","fontSize":40,"lineHeight":40,"lineBreak":"\n","color":"black"},"encoding":{"x":{"datum":100,"type":"quantitative","axis":null},"y":{"datum":815,"type":"quantitative","axis":null},"text":{"field":"title"}}}
   ]},
   {"width":496,"height":426,"resolve":{"axis":{"x":"independent","y":"independent"}},"layer":[
    {"data":{"name":"regions"},"transform":[{"filter":"datum.panel == 3"}],"mark":{"type":"area","interpolate":"linear","strokeWidth":1.2},"encoding":{"x":{"field":"x","type":"quantitative","scale":{"domain":[82,918],"nice":false,"zero":false},"axis":{"title":"mg̃ (GeV)","values":[100,150,200,250,300,350,400,450,500,550,600,650,700,750,800,850,900],"labelExpr":"datum.value % 200 == 0 ? datum.label : ''"}},"y":{"field":"lo","type":"quantitative","stack":null,"scale":{"domain":[-15,870],"nice":false,"zero":false},"axis":{"title":"mχ (GeV)","values":[0,50,100,150,200,250,300,350,400,450,500,550,600,650,700,750,800,850],"labelExpr":"datum.value % 200 == 0 ? datum.label : ''"}},"y2":{"field":"hi"},"color":{"field":"cut","type":"nominal","scale":{"domain":["Dijet","Trijet","LowMET","HighHT","ModMET","HighMET"],"range":["#CC9350","#A0856C","#BA6664","#CBC850","#5C8E8F","#8FAC52"]},"legend":null},"detail":{"field":"part"},"stroke":{"condition":{"test":"datum.part == 'base'","value":"transparent"},"value":"#1a1a1a"}}},
    {"data":{"name":"mask"},"transform":[{"filter":"datum.panel == 3"}],"mark":{"type":"area","fill":"transparent","stroke":"white","strokeWidth":3},"encoding":{"x":{"field":"x","type":"quantitative","axis":null},"y":{"field":"lo","type":"quantitative","stack":null,"axis":null},"y2":{"field":"hi"}}},
    {"data":{"name":"diag"},"transform":[{"filter":"datum.panel == 3"}],"mark":{"type":"line","color":"black","strokeWidth":1.6,"clip":true},"encoding":{"x":{"field":"x","type":"quantitative","axis":{"orient":"top","labels":false,"title":null,"values":[100,150,200,250,300,350,400,450,500,550,600,650,700,750,800,850,900]}},"y":{"field":"y","type":"quantitative","axis":{"orient":"right","labels":false,"title":null,"values":[0,50,100,150,200,250,300,350,400,450,500,550,600,650,700,750,800,850]}}}},
    {"data":{"name":"stars"},"transform":[{"filter":"datum.panel == 3"}],"mark":{"type":"point","shape":"M0,-1L0.17,-0.42L0.71,-0.71L0.42,-0.17L1,0L0.42,0.17L0.71,0.71L0.17,0.42L0,1L-0.17,0.42L-0.71,0.71L-0.42,0.17L-1,0L-0.42,-0.17L-0.71,-0.71L-0.17,-0.42Z","filled":true,"size":1100,"color":"#6a1b9a","opacity":1},"encoding":{"x":{"field":"x","type":"quantitative","axis":null},"y":{"field":"y","type":"quantitative","axis":null}}},
    {"data":{"name":"titles"},"transform":[{"filter":"datum.panel == 3"}],"mark":{"type":"text","align":"left","baseline":"alphabetic","font":"Liberation Serif","fontSize":40,"lineHeight":40,"lineBreak":"\n","color":"black"},"encoding":{"x":{"datum":100,"type":"quantitative","axis":null},"y":{"datum":783,"type":"quantitative","axis":null},"text":{"field":"title"}}}
   ]},
   {"width":496,"height":426,"resolve":{"axis":{"x":"independent","y":"independent"}},"layer":[
    {"data":{"name":"regions"},"transform":[{"filter":"datum.panel == 4"}],"mark":{"type":"area","interpolate":"linear","strokeWidth":1.2},"encoding":{"x":{"field":"x","type":"quantitative","scale":{"domain":[82,918],"nice":false,"zero":false},"axis":{"title":"mg̃ (GeV)","values":[100,150,200,250,300,350,400,450,500,550,600,650,700,750,800,850,900],"labelExpr":"datum.value % 200 == 0 ? datum.label : ''"}},"y":{"field":"lo","type":"quantitative","stack":null,"scale":{"domain":[-3,904],"nice":false,"zero":false},"axis":{"title":"mχ (GeV)","values":[0,50,100,150,200,250,300,350,400,450,500,550,600,650,700,750,800,850,900],"labelExpr":"datum.value % 200 == 0 ? datum.label : ''"}},"y2":{"field":"hi"},"color":{"field":"cut","type":"nominal","scale":{"domain":["Dijet","Trijet","LowMET","HighHT","ModMET","HighMET"],"range":["#CC9350","#A0856C","#BA6664","#CBC850","#5C8E8F","#8FAC52"]},"legend":null},"detail":{"field":"part"},"stroke":{"condition":{"test":"datum.part == 'base'","value":"transparent"},"value":"#1a1a1a"}}},
    {"data":{"name":"mask"},"transform":[{"filter":"datum.panel == 4"}],"mark":{"type":"area","fill":"transparent","stroke":"white","strokeWidth":3},"encoding":{"x":{"field":"x","type":"quantitative","axis":null},"y":{"field":"lo","type":"quantitative","stack":null,"axis":null},"y2":{"field":"hi"}}},
    {"data":{"name":"diag"},"transform":[{"filter":"datum.panel == 4"}],"mark":{"type":"line","color":"black","strokeWidth":1.6,"clip":true},"encoding":{"x":{"field":"x","type":"quantitative","axis":{"orient":"top","labels":false,"title":null,"values":[100,150,200,250,300,350,400,450,500,550,600,650,700,750,800,850,900]}},"y":{"field":"y","type":"quantitative","axis":{"orient":"right","labels":false,"title":null,"values":[0,50,100,150,200,250,300,350,400,450,500,550,600,650,700,750,800,850,900]}}}},
    {"data":{"name":"stars"},"transform":[{"filter":"datum.panel == 4"}],"mark":{"type":"point","shape":"M0,-1L0.17,-0.42L0.71,-0.71L0.42,-0.17L1,0L0.42,0.17L0.71,0.71L0.17,0.42L0,1L-0.17,0.42L-0.71,0.71L-0.42,0.17L-1,0L-0.42,-0.17L-0.71,-0.71L-0.17,-0.42Z","filled":true,"size":1100,"color":"#6a1b9a","opacity":1},"encoding":{"x":{"field":"x","type":"quantitative","axis":null},"y":{"field":"y","type":"quantitative","axis":null}}},
    {"data":{"name":"titles"},"transform":[{"filter":"datum.panel == 4"}],"mark":{"type":"text","align":"left","baseline":"alphabetic","font":"Liberation Serif","fontSize":40,"lineHeight":40,"lineBreak":"\n","color":"black"},"encoding":{"x":{"datum":100,"type":"quantitative","axis":null},"y":{"datum":815,"type":"quantitative","axis":null},"text":{"field":"title"}}}
   ]},
   {"width":496,"height":426,"resolve":{"axis":{"x":"independent","y":"independent"}},"layer":[
    {"data":{"name":"regions"},"transform":[{"filter":"datum.panel == 5"}],"mark":{"type":"area","interpolate":"linear","strokeWidth":1.2},"encoding":{"x":{"field":"x","type":"quantitative","scale":{"domain":[82,918],"nice":false,"zero":false},"axis":{"title":"mg̃ (GeV)","values":[100,150,200,250,300,350,400,450,500,550,600,650,700,750,800,850,900],"labelExpr":"datum.value % 200 == 0 ? datum.label : ''"}},"y":{"field":"lo","type":"quantitative","stack":null,"scale":{"domain":[-3,904],"nice":false,"zero":false},"axis":{"title":"mχ (GeV)","values":[0,50,100,150,200,250,300,350,400,450,500,550,600,650,700,750,800,850,900],"labelExpr":"datum.value % 200 == 0 ? datum.label : ''"}},"y2":{"field":"hi"},"color":{"field":"cut","type":"nominal","scale":{"domain":["Dijet","Trijet","LowMET","HighHT","ModMET","HighMET"],"range":["#CC9350","#A0856C","#BA6664","#CBC850","#5C8E8F","#8FAC52"]},"legend":null},"detail":{"field":"part"},"stroke":{"condition":{"test":"datum.part == 'base'","value":"transparent"},"value":"#1a1a1a"}}},
    {"data":{"name":"mask"},"transform":[{"filter":"datum.panel == 5"}],"mark":{"type":"area","fill":"transparent","stroke":"white","strokeWidth":3},"encoding":{"x":{"field":"x","type":"quantitative","axis":null},"y":{"field":"lo","type":"quantitative","stack":null,"axis":null},"y2":{"field":"hi"}}},
    {"data":{"name":"diag"},"transform":[{"filter":"datum.panel == 5"}],"mark":{"type":"line","color":"black","strokeWidth":1.6,"clip":true},"encoding":{"x":{"field":"x","type":"quantitative","axis":{"orient":"top","labels":false,"title":null,"values":[100,150,200,250,300,350,400,450,500,550,600,650,700,750,800,850,900]}},"y":{"field":"y","type":"quantitative","axis":{"orient":"right","labels":false,"title":null,"values":[0,50,100,150,200,250,300,350,400,450,500,550,600,650,700,750,800,850,900]}}}},
    {"data":{"name":"stars"},"transform":[{"filter":"datum.panel == 5"}],"mark":{"type":"point","shape":"M0,-1L0.17,-0.42L0.71,-0.71L0.42,-0.17L1,0L0.42,0.17L0.71,0.71L0.17,0.42L0,1L-0.17,0.42L-0.71,0.71L-0.42,0.17L-1,0L-0.42,-0.17L-0.71,-0.71L-0.17,-0.42Z","filled":true,"size":1100,"color":"#6a1b9a","opacity":1},"encoding":{"x":{"field":"x","type":"quantitative","axis":null},"y":{"field":"y","type":"quantitative","axis":null}}},
    {"data":{"name":"titles"},"transform":[{"filter":"datum.panel == 5"}],"mark":{"type":"text","align":"left","baseline":"alphabetic","font":"Liberation Serif","fontSize":40,"lineHeight":40,"lineBreak":"\n","color":"black"},"encoding":{"x":{"datum":100,"type":"quantitative","axis":null},"y":{"datum":815,"type":"quantitative","axis":null},"text":{"field":"title"}}}
   ]},
  {"width":496,"height":426,"resolve":{"axis":{"x":"independent","y":"independent"}},"layer":[
   {"data":{"name":"regions"},"transform":[{"filter":"datum.panel == 6"}],"mark":{"type":"area","interpolate":"linear","strokeWidth":1.2},"encoding":{"x":{"field":"x","type":"quantitative","scale":{"domain":[82,918],"nice":false,"zero":false},"axis":{"title":"mg̃ (GeV)","values":[100,150,200,250,300,350,400,450,500,550,600,650,700,750,800,850,900],"labelExpr":"datum.value % 200 == 0 ? datum.label : ''"}},"y":{"field":"lo","type":"quantitative","stack":null,"scale":{"domain":[-3,904],"nice":false,"zero":false},"axis":{"title":"mχ (GeV)","values":[0,50,100,150,200,250,300,350,400,450,500,550,600,650,700,750,800,850,900],"labelExpr":"datum.value % 200 == 0 ? datum.label : ''"}},"y2":{"field":"hi"},"color":{"field":"cut","type":"nominal","scale":{"domain":["Dijet","Trijet","LowMET","HighHT","ModMET","HighMET"],"range":["#CC9350","#A0856C","#BA6664","#CBC850","#5C8E8F","#8FAC52"]},"legend":null},"detail":{"field":"part"},"stroke":{"condition":{"test":"datum.part == 'base'","value":"transparent"},"value":"#1a1a1a"}}},
   {"data":{"name":"mask"},"transform":[{"filter":"datum.panel == 6"}],"mark":{"type":"area","fill":"transparent","stroke":"white","strokeWidth":3},"encoding":{"x":{"field":"x","type":"quantitative","axis":null},"y":{"field":"lo","type":"quantitative","stack":null,"axis":null},"y2":{"field":"hi"}}},
   {"data":{"name":"diag"},"transform":[{"filter":"datum.panel == 6"}],"mark":{"type":"line","color":"black","strokeWidth":1.6,"clip":true},"encoding":{"x":{"field":"x","type":"quantitative","axis":{"orient":"top","labels":false,"title":null,"values":[100,150,200,250,300,350,400,450,500,550,600,650,700,750,800,850,900]}},"y":{"field":"y","type":"quantitative","axis":{"orient":"right","labels":false,"title":null,"values":[0,50,100,150,200,250,300,350,400,450,500,550,600,650,700,750,800,850,900]}}}},
   {"data":{"name":"stars"},"transform":[{"filter":"datum.panel == 6"}],"mark":{"type":"point","shape":"M0,-1L0.17,-0.42L0.71,-0.71L0.42,-0.17L1,0L0.42,0.17L0.71,0.71L0.17,0.42L0,1L-0.17,0.42L-0.71,0.71L-0.42,0.17L-1,0L-0.42,-0.17L-0.71,-0.71L-0.17,-0.42Z","filled":true,"size":1100,"color":"#6a1b9a","opacity":1},"encoding":{"x":{"field":"x","type":"quantitative","axis":null},"y":{"field":"y","type":"quantitative","axis":null}}},
   {"data":{"name":"titles"},"transform":[{"filter":"datum.panel == 6"}],"mark":{"type":"text","align":"left","baseline":"alphabetic","font":"Liberation Serif","fontSize":40,"lineHeight":40,"lineBreak":"\n","color":"black"},"encoding":{"x":{"datum":100,"type":"quantitative","axis":null},"y":{"datum":815,"type":"quantitative","axis":null},"text":{"field":"title"}}}
  ]}
],"columns":3,"spacing":{"row":106,"column":145},"bounds":"flush"},
{"vconcat":[
 {"width":516,"height":313,"data":{"values":[{"s":""}]},"mark":{"type":"text"},"encoding":{"text":{"field":"s"}},"view":{"stroke":null}},
 {"hconcat":[
  {"width":99,"height":423,"data":{"name":"table"},"view":{"stroke":null},"layer":[
   {"transform":[{"filter":"datum.key != 'header'"}],"mark":{"type":"rect"},"encoding":{"y":{"field":"key","type":"nominal","sort":null,"scale":{"domain":["header","Dijet","Trijet","LowMET","HighHT","ModMET","HighMET"],"paddingInner":0,"paddingOuter":0},"axis":null},"color":{"field":"key","type":"nominal","scale":{"domain":["Dijet","Trijet","LowMET","HighHT","ModMET","HighMET"],"range":["#CC9350","#A0856C","#BA6664","#CBC850","#5C8E8F","#8FAC52"]},"legend":null}}},
   {"transform":[{"filter":"datum.key == 'header'"}],"mark":{"type":"rect","fill":"white","stroke":"#a8a8a8","strokeWidth":2},"encoding":{"y":{"field":"key","type":"nominal","axis":null}}},
   {"transform":[{"filter":"datum.key == 'header'"}],"mark":{"type":"text","font":"Liberation Serif","fontSize":39,"color":"#222"},"encoding":{"y":{"field":"key","type":"nominal","axis":null},"text":{"value":"cut"}}}
  ]},
  {"width":417,"height":423,"data":{"name":"table"},"view":{"stroke":null},"layer":[
   {"mark":{"type":"rect","fill":"white","stroke":"#a8a8a8","strokeWidth":2},"encoding":{"y":{"field":"key","type":"nominal","sort":null,"scale":{"domain":["header","Dijet","Trijet","LowMET","HighHT","ModMET","HighMET"],"paddingInner":0,"paddingOuter":0},"axis":null}}},
   {"mark":{"type":"text","font":"Liberation Serif","fontSize":39,"color":"#222"},"encoding":{"y":{"field":"key","type":"nominal","axis":null},"text":{"field":"label"}}}
  ]}
 ],"spacing":0}
],"spacing":0}
],
"spacing":127
}
